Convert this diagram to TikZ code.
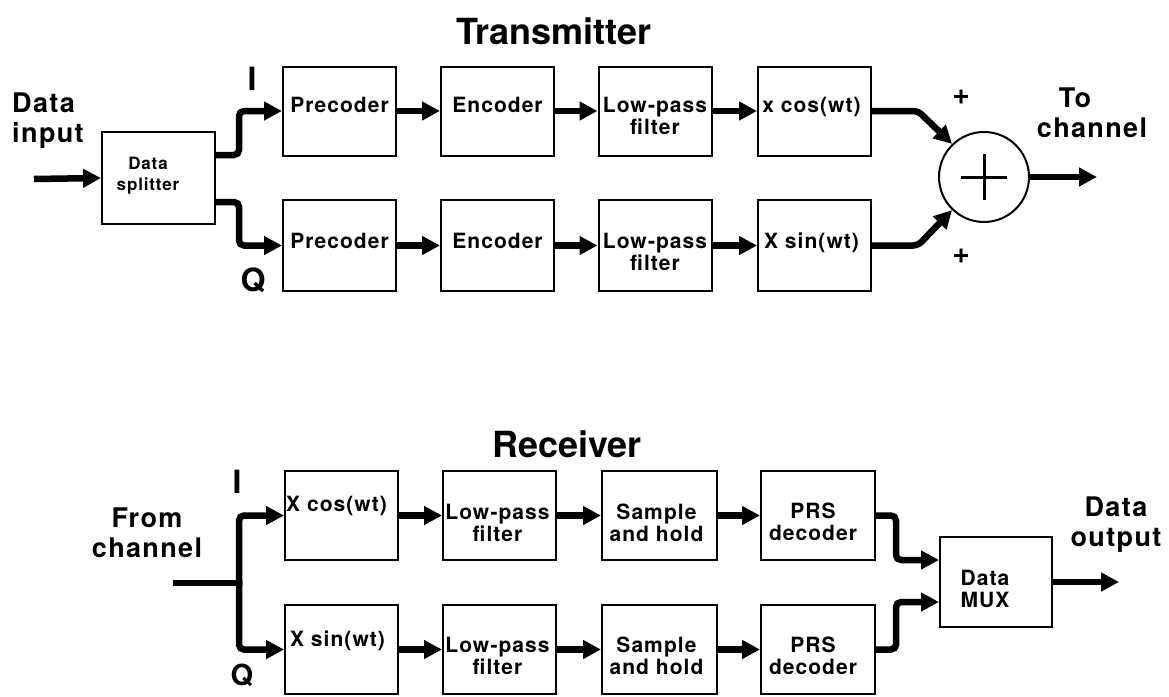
\documentclass[tikz,border=0pt]{standalone}
\usepackage{fontspec}
\setmainfont{TeX Gyre Heros}
\newfontfamily\spfont{TeX Gyre Heros}[LetterSpace=5]
\usetikzlibrary{arrows.meta}
\begin{document}
\begin{tikzpicture}[x=1pt,y=-1pt,
  box/.style={draw, line width=2pt, minimum width=113pt, minimum height=89pt, inner sep=0pt},
  conn/.style={line width=6.5pt, rounded corners=5pt, -{Triangle[length=18pt,width=18pt]}},
  wire/.style={line width=6.5pt},
  bt/.style={font=\spfont\bfseries\fontsize{21}{22}\selectfont, align=center, inner sep=0pt, anchor=north},
  st/.style={font=\spfont\bfseries\fontsize{17}{21}\selectfont, align=center, inner sep=0pt, anchor=north},
  lbl/.style={font=\spfont\bfseries\fontsize{27}{30}\selectfont, align=center, inner sep=0pt},
  ttl/.style={font=\bfseries\fontsize{36}{40}\selectfont, inner sep=0pt},
  iq/.style={font=\bfseries\fontsize{32}{36}\selectfont, inner sep=0pt},
  pm/.style={font=\bfseries\fontsize{30}{32}\selectfont, inner sep=0pt}]
\fill[white] (0,0) rectangle (1169,696);
\useasboundingbox (0,0) rectangle (1169,696);

% ---------------- Transmitter ----------------
\node[ttl] (ttx) at (554,31) {Transmitter};

\node[box, minimum height=92pt] (split) at (158.5,178) {};
\node[st] (splitt) at (148,157) {Data\\splitter};

\node[box] (pre1) at (339.5,111) {};
\node[box] (enc1) at (497.5,111) {};
\node[box] (lpf1) at (655,111) {};
\node[box] (cos1) at (814.5,111) {};
\node[box, minimum height=91pt] (pre2) at (339.5,245.5) {};
\node[box, minimum height=91pt] (enc2) at (497.5,245.5) {};
\node[box, minimum height=91pt] (lpf2) at (655,245.5) {};
\node[box, minimum height=91pt] (sin1) at (814.5,245.5) {};

\node[bt] (pre1t) at ([yshift=-31pt]pre1.north) {Precoder};
\node[bt] (enc1t) at ([yshift=-31pt]enc1.north) {Encoder};
\node[bt] (lpf1t) at ([yshift=-31pt]lpf1.north) {Low-pass\\filter};
\node[bt] (cos1t) at ([xshift=-3pt,yshift=-31pt]cos1.north) {x cos(wt)};
\node[bt] (pre2t) at ([yshift=-34pt]pre2.north) {Precoder};
\node[bt] (enc2t) at ([yshift=-34pt]enc2.north) {Encoder};
\node[bt] (lpf2t) at ([yshift=-34pt]lpf2.north) {Low-pass\\filter};
\node[bt] (sin1t) at ([xshift=-3pt,yshift=-34pt]sin1.north) {X sin(wt)};

\node[draw, circle, line width=2pt, minimum size=90pt, inner sep=0pt] (sum) at (984,177) {};
\draw[line width=3pt] ([xshift=-23pt]sum.center) -- ([xshift=23pt]sum.center);
\draw[line width=3pt] ([yshift=23pt]sum.center) -- ([yshift=-23pt]sum.center);

\node[lbl, align=left, anchor=north west] (din) at (12,93) {Data\\input};
\node[lbl, anchor=north] (tcl) at (1092,88) {To\hspace*{34pt}\\channel};
\node[iq] (ti) at (252,79) {I};
\node[iq] (tq) at (253,280) {Q};
\node[pm] (p1) at (961,97) {+};
\node[pm] (p2) at (961,256) {+};

\coordinate (din0) at (34,179);
\coordinate (tch) at (1097,177);

\draw[conn] (din0) -- (split.west);
\draw[conn] ([yshift=23pt]split.east) -- ++(23,0) |- (pre1.west);
\draw[conn] ([yshift=-24pt]split.east) -- ++(23,0) |- (pre2.west);
\draw[conn] (pre1) -- (enc1);
\draw[conn] (enc1) -- (lpf1);
\draw[conn] (lpf1) -- (cos1);
\draw[conn] (pre2) -- (enc2);
\draw[conn] (enc2) -- (lpf2);
\draw[conn] (lpf2) -- (sin1);
\draw[conn] (cos1.east) -- ++(46,0) -- (sum.134);
\draw[conn] (sin1.east) -- ++(46,0) -- (sum.226);
\draw[conn] (sum.east) -- (tch);

% ---------------- Receiver ----------------
\node[ttl] (trx) at (567,444) {Receiver};

\node[box] (mcos) at (341.5,515.5) {};
\node[box] (lpr1) at (499.5,515.5) {};
\node[box, minimum width=115pt] (sh1) at (659.5,515.5) {};
\node[box, minimum width=114pt] (prs1) at (818,515.5) {};
\node[box] (msin) at (341.5,649.5) {};
\node[box] (lpr2) at (499.5,649.5) {};
\node[box, minimum width=115pt] (sh2) at (659.5,649.5) {};
\node[box, minimum width=114pt] (prs2) at (818,649.5) {};
\node[box, minimum width=112pt, minimum height=90pt] (mux) at (996,582) {};

\node[bt] (mcost) at ([xshift=-5pt,yshift=-26pt]mcos.north) {X cos(wt)};
\node[bt] (lpr1t) at ([xshift=-2pt,yshift=-34pt]lpr1.north) {Low-pass\\filter};
\node[bt] (sh1t) at ([xshift=-3pt,yshift=-34pt]sh1.north) {Sample\\and hold};
\node[bt] (prs1t) at ([xshift=-5pt,yshift=-33pt]prs1.north) {PRS\\decoder};
\node[bt] (msint) at ([xshift=-4pt,yshift=-27pt]msin.north) {X sin(wt)};
\node[bt] (lpr2t) at ([xshift=-2pt,yshift=-33pt]lpr2.north) {Low-pass\\filter};
\node[bt] (sh2t) at ([xshift=-3pt,yshift=-33pt]sh2.north) {Sample\\and hold};
\node[bt] (prs2t) at ([xshift=-5pt,yshift=-33pt]prs2.north) {PRS\\decoder};
\node[bt] (muxt) at ([xshift=-11pt,yshift=-34pt]mux.north) {Data\\MUX};

\node[lbl, anchor=north] (fcl) at (147,508) {From\\channel};
\node[lbl, anchor=north] (dout) at (1116,497) {Data\\output};
\node[iq] (ri) at (237,482) {I};
\node[iq, anchor=north, font=\bfseries\fontsize{29}{32}\selectfont] (rq) at (242,664) {Q};

\coordinate (fch) at (173,583);
\coordinate (rsp) at (239,583);
\coordinate (dout0) at (1119,582);

\draw[wire] (fch) -- (rsp);
\draw[conn] ([yshift=-3.25pt]rsp) |- (mcos.west);
\draw[conn] ([yshift=3.25pt]rsp) |- (msin.west);
\draw[conn] (mcos) -- (lpr1);
\draw[conn] (lpr1) -- (sh1);
\draw[conn] (sh1) -- (prs1);
\draw[conn] (msin) -- (lpr2);
\draw[conn] (lpr2) -- (sh2);
\draw[conn] (sh2) -- (prs2);
\draw[conn] (prs1.east) -- ++(20,0) |- ([yshift=22pt]mux.west);
\draw[conn] (prs2.east) -- ++(20,0) |- ([yshift=-20pt]mux.west);
\draw[conn] (mux.east) -- (dout0);
\end{tikzpicture}
\end{document}
